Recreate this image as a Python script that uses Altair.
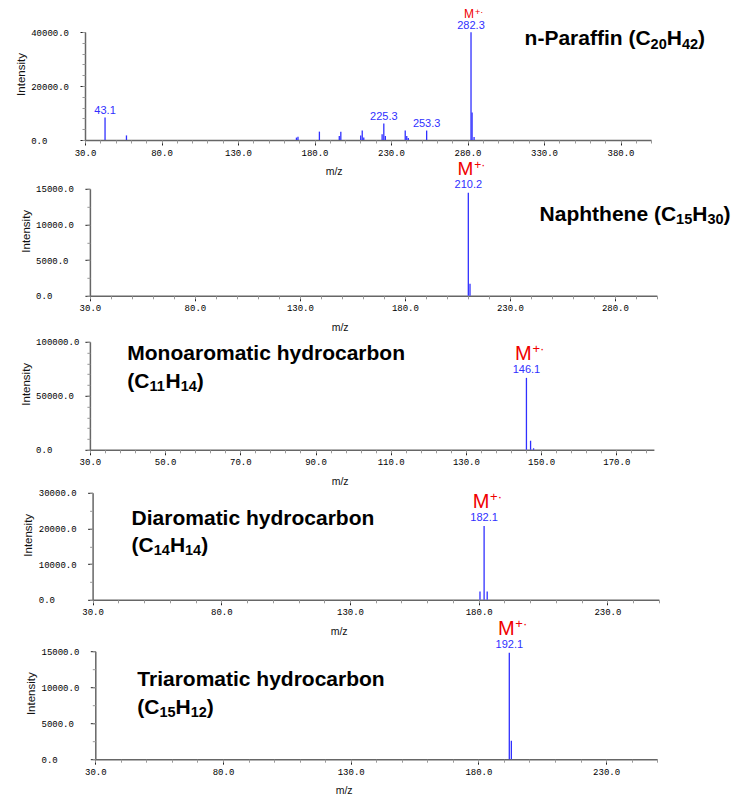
import altair as alt
import pandas as pd

# ---------------- data ----------------
p1_mz = [43.1, 57.1, 168.2, 169.2, 183.2, 196.2, 197.2, 210.2, 211.2, 212.2,
         224.2, 225.3, 226.3, 239.3, 240.3, 241.3, 253.3, 282.3, 283.0, 284.3]
p1_int = [8300, 1700, 900, 1250, 3100, 1500, 3100, 1700, 3500, 900,
          2100, 6100, 1500, 3500, 1500, 700, 3500, 39900, 10200, 1100]
p1_labels = [43.1, 225.3, 253.3, 282.3]
p1_ion = 282.3

p2_mz = [210.2, 211.0]
p2_int = [14450, 1700]
p2_labels = [210.2]
p2_ion = 210.2

p3_mz = [146.1, 147.2, 148.0]
p3_int = [66600, 8400, 1400]
p3_labels = [146.1]
p3_ion = 146.1

p4_mz = [180.5, 182.1, 183.3]
p4_int = [2300, 20700, 2300]
p4_labels = [182.1]
p4_ion = 182.1

p5_mz = [192.1, 192.9]
p5_int = [14800, 2550]
p5_labels = [192.1]
p5_ion = 192.1

# tick values
p1_xmajor = [30, 80, 130, 180, 230, 280, 330, 380]
p1_xminor = list(range(30, 401, 10))
p1_ymajor = [0, 20000, 40000]
p1_yminor = list(range(0, 40001, 4000))

p2_xmajor = [30, 80, 130, 180, 230, 280]
p2_xminor = list(range(30, 301, 10))
p2_ymajor = [0, 5000, 10000, 15000]
p2_yminor = list(range(0, 15001, 2500))

p3_xmajor = [30, 50, 70, 90, 110, 130, 150, 170]
p3_xminor = list(range(30, 181, 4))
p3_ymajor = [0, 50000, 100000]
p3_yminor = list(range(0, 100001, 10000))

p4_xmajor = [30, 80, 130, 180, 230]
p4_xminor = list(range(30, 251, 10))
p4_ymajor = [0, 10000, 20000, 30000]
p4_yminor = list(range(0, 30001, 5000))

p5_xmajor = [30, 80, 130, 180, 230]
p5_xminor = list(range(30, 251, 10))
p5_ymajor = [0, 5000, 10000, 15000]
p5_yminor = list(range(0, 15001, 2500))

# compound titles: lines of (text, is_subscript) segments
p1_title = [[("n-Paraffin (C", 0), ("20", 1), ("H", 0), ("42", 1), (")", 0)]]
p2_title = [[("Naphthene (C", 0), ("15", 1), ("H", 0), ("30", 1), (")", 0)]]
p3_title = [[("Monoaromatic hydrocarbon", 0)],
            [("(C", 0), ("11", 1), ("H", 0), ("14", 1), (")", 0)]]
p4_title = [[("Diaromatic hydrocarbon", 0)],
            [("(C", 0), ("14", 1), ("H", 0), ("14", 1), (")", 0)]]
p5_title = [[("Triaromatic hydrocarbon", 0)],
            [("(C", 0), ("15", 1), ("H", 0), ("12", 1), (")", 0)]]

# ---------------- styling / layout ----------------
SANS = "Liberation Sans"
MONO = "Liberation Mono"
BLUE = "#3030ff"
RED = "#f00000"
ORIGIN_X = 84.4
W = 575
TITLE_SIZE = 21
SUB_SIZE = 14.5

AW = {' ': 278, '(': 333, ')': 333, '-': 333, 'C': 722, 'D': 722, 'H': 722,
      'M': 833, 'N': 722, 'P': 667, 'T': 611, 'a': 556, 'b': 611, 'c': 556,
      'd': 611, 'e': 556, 'f': 333, 'h': 611, 'i': 278, 'm': 889, 'n': 611,
      'o': 611, 'p': 611, 'r': 389, 't': 333, 'y': 556}
for _d in "0123456789":
    AW[_d] = 556


def text_width(s, size):
    return sum(AW.get(c, 556) for c in s) * size / 1000.0


ONE = pd.DataFrame({"k": [0]})

M_STD = dict(m_size=20, m_dx=-3, m_dy=-18, s_size=13, s_dx=6, s_dy=-24.5,
             l_dy=-4.5)
M_P2 = dict(m_size=19, m_dx=-3, m_dy=-17.5, s_size=12, s_dx=6, s_dy=-23.5,
            l_dy=-4.5)
M_TOP = dict(m_size=12, m_dx=-2, m_dy=-14, s_size=9, s_dx=4, s_dy=-17.5,
             l_dy=-3.5)


def make_panel(mz, inten, labels, ion, xdom, axis_x, ppu, xmajor, xminor,
               ydom, ymajor, yminor, height, mz_title_x, title_lines,
               title_left, title_baselines, mstyle):
    df = pd.DataFrame({"mz": mz, "inten": inten})
    lab = df[df["mz"].isin(labels)]
    ion_df = df[df["mz"] == ion]
    x0 = axis_x - ORIGIN_X
    x1 = x0 + (xdom[1] - xdom[0]) * ppu
    xs = alt.Scale(domain=xdom, range=[x0, x1], nice=False, zero=False)
    ys = alt.Scale(domain=ydom, nice=False, zero=True)

    x_major = alt.Axis(orient="bottom", values=xmajor, format=".1f",
                       labelFont=MONO, labelFontSize=9, labelColor="#000",
                       labelFlush=False, labelOverlap=False, labelPadding=3,
                       tickSize=5, tickColor="#222", tickWidth=1,
                       domainColor="#666", domainWidth=1.5, grid=False,
                       title="m/z", titleFont=SANS, titleFontSize=10.5,
                       titleFontWeight="normal", titleColor="#111",
                       titleX=mz_title_x - ORIGIN_X, titleY=31.5,
                       titleAlign="center", titleBaseline="middle")
    x_minor = alt.Axis(orient="bottom", values=xminor, labels=False,
                       domain=False, tickSize=3, tickColor="#999",
                       tickWidth=1, grid=False, title=None)
    y_major = alt.Axis(orient="left", offset=-x0, values=ymajor, format=".1f",
                       labelFont=MONO, labelFontSize=9, labelColor="#000",
                       labelAlign="left", labelBaseline="middle",
                       labelPadding=49.3, labelFlush=False, labelOverlap=False,
                       tickSize=5, tickColor="#222", tickWidth=1,
                       domainColor="#666", domainWidth=1.5, grid=False,
                       title="Intensity", titleFont=SANS, titleFontSize=11.5,
                       titleFontWeight="normal", titleColor="#111",
                       titleAngle=270, titleX=-63.7, titleY=42,
                       titleAlign="center", titleBaseline="middle")
    y_minor = alt.Axis(orient="left", offset=-x0, values=yminor, labels=False,
                       domain=False, tickSize=3, tickColor="#999",
                       tickWidth=1, grid=False, title=None)

    base = alt.Chart(df)
    peaks = base.mark_rule(color=BLUE, strokeWidth=1.3).encode(
        x=alt.X("mz:Q", scale=xs, axis=x_major),
        y=alt.Y("inten:Q", scale=ys, axis=y_major),
        y2=alt.datum(0),
    )
    minor = base.mark_point(opacity=0).encode(
        x=alt.X("mz:Q", scale=xs, axis=x_minor),
        y=alt.Y("inten:Q", scale=ys, axis=y_minor),
    )
    peak_labels = alt.Chart(lab).mark_text(
        font=SANS, fontSize=11, color=BLUE, align="center",
        baseline="alphabetic", dy=mstyle["l_dy"],
    ).encode(
        x=alt.X("mz:Q", scale=xs, axis=None),
        y=alt.Y("inten:Q", scale=ys, axis=None),
        text=alt.Text("mz:Q", format=".1f"),
    )
    m_text = alt.Chart(ion_df).mark_text(
        text="M", font=SANS, fontSize=mstyle["m_size"], color=RED,
        align="center", baseline="alphabetic",
        dx=mstyle["m_dx"], dy=mstyle["m_dy"],
    ).encode(
        x=alt.X("mz:Q", scale=xs, axis=None),
        y=alt.Y("inten:Q", scale=ys, axis=None),
    )
    m_sup = alt.Chart(ion_df).mark_text(
        text="+\u00b7", font=SANS, fontSize=mstyle["s_size"], color=RED,
        align="left", baseline="alphabetic",
        dx=mstyle["s_dx"], dy=mstyle["s_dy"],
    ).encode(
        x=alt.X("mz:Q", scale=xs, axis=None),
        y=alt.Y("inten:Q", scale=ys, axis=None),
    )

    layers = [peaks, minor, peak_labels, m_text, m_sup]
    for segs, by in zip(title_lines, title_baselines):
        cx = title_left - ORIGIN_X
        for txt, sub in segs:
            size = SUB_SIZE if sub else TITLE_SIZE
            layers.append(
                alt.Chart(ONE).mark_text(
                    text=txt, font=SANS, fontSize=size, fontWeight="bold",
                    color="black", align="left", baseline="alphabetic",
                ).encode(x=alt.value(cx), y=alt.value(by + (3.5 if sub else 0)))
            )
            cx += text_width(txt, size)

    return alt.layer(*layers).resolve_axis(
        x="independent", y="independent"
    ).properties(width=W, height=height)


p1 = make_panel(p1_mz, p1_int, p1_labels, p1_ion, [30, 400], 84.4, 1.53,
                p1_xmajor, p1_xminor, [0, 40000], p1_ymajor, p1_yminor, 108,
                333, p1_title, 524, [13], M_TOP)
p2 = make_panel(p2_mz, p2_int, p2_labels, p2_ion, [30, 300], 89.3, 2.1,
                p2_xmajor, p2_xminor, [0, 15000], p2_ymajor, p2_yminor, 107,
                339, p2_title, 539, [31.7], M_P2)
p3 = make_panel(p3_mz, p3_int, p3_labels, p3_ion, [30, 180], 89.3, 3.76,
                p3_xmajor, p3_xminor, [0, 100000], p3_ymajor, p3_yminor, 108,
                339, p3_title, 126.7, [17.7, 45.7], M_STD)
p4 = make_panel(p4_mz, p4_int, p4_labels, p4_ion, [30, 250], 92.0, 2.574,
                p4_xmajor, p4_xminor, [0, 30000], p4_ymajor, p4_yminor, 107,
                338, p4_title, 131, [31.7, 58.7], M_STD)
p5 = make_panel(p5_mz, p5_int, p5_labels, p5_ion, [30, 250], 94.7, 2.554,
                p5_xmajor, p5_xminor, [0, 15000], p5_ymajor, p5_yminor, 108,
                343, p5_title, 136.7, [35, 62.8], M_STD)

v45 = alt.vconcat(p4, p5, spacing=51.4, bounds="flush")
v345 = alt.vconcat(p3, v45, spacing=43, bounds="flush")
v2345 = alt.vconcat(p2, v345, spacing=46, bounds="flush")
chart = alt.vconcat(p1, v2345, spacing=48.8, bounds="flush").properties(
    padding={"left": 7, "top": -1, "right": 4, "bottom": 4},
    background="white",
).configure_view(stroke=None)

chart.save("out.html", embed_options={"renderer": "svg", "actions": False})
